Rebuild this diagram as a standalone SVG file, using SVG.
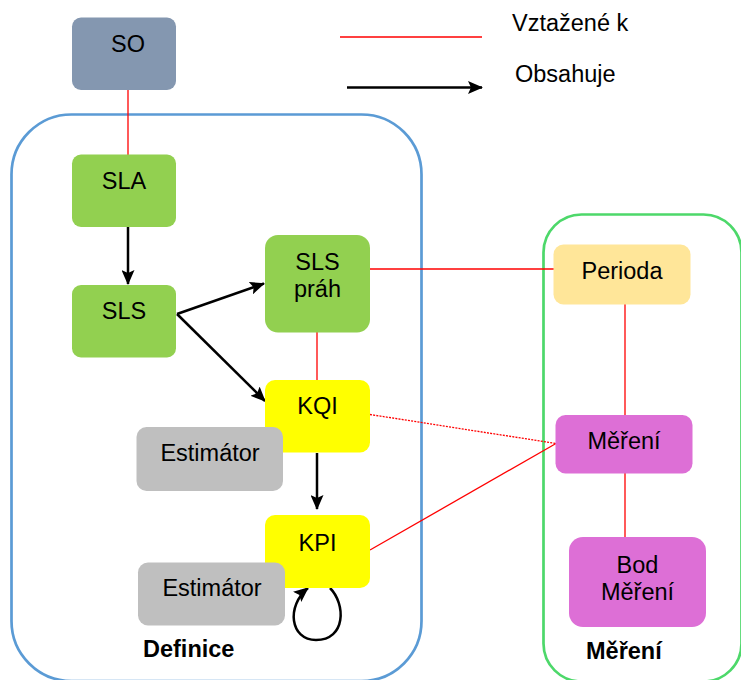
<svg xmlns="http://www.w3.org/2000/svg" width="741" height="680" viewBox="0 0 741 680">
<style>
text{font-family:"Liberation Sans",Arial,sans-serif;font-size:23.5px;fill:#000;text-anchor:middle}
.b{font-weight:bold;text-anchor:start}
.rel{stroke:#FF0000;stroke-width:1.3;fill:none}
.has{stroke:#000;stroke-width:2.5;fill:none;marker-end:url(#ah)}
</style>
<defs>
<marker id="ah" markerUnits="userSpaceOnUse" markerWidth="15" markerHeight="13" refX="14" refY="6.5" orient="auto" viewBox="0 0 15 13">
<path d="M0,0 L15,6.5 L0,13 L3,6.5 z" fill="#000"/>
</marker>
</defs>
<rect width="741" height="680" fill="#fff"/>
<g id="legend">
<line x1="340" y1="37" x2="482" y2="37" class="rel"/>
<text x="512" y="31" style="text-anchor:start">Vztažené k</text>
<line x1="347" y1="87.5" x2="482" y2="87.5" class="has"/>
<text x="515" y="82" style="text-anchor:start">Obsahuje</text>
</g>
<g id="definice">
<rect x="11.5" y="114.5" width="410" height="566.5" rx="60" fill="none" stroke="#5B9BD5" stroke-width="2.7"/>
<text x="143" y="657" class="b">Definice</text>
</g>
<g id="mereni-group">
<rect x="543.5" y="214.5" width="198" height="467" rx="38" fill="none" stroke="#4DD86A" stroke-width="2.7"/>
<text x="586" y="659" class="b">Měření</text>
</g>
<g id="connectors">
<line x1="128" y1="90" x2="128" y2="155" class="rel"/>
<line x1="317" y1="332" x2="317" y2="380" class="rel"/>
<line x1="370" y1="269" x2="554" y2="269" class="rel"/>
<line x1="625" y1="304" x2="625" y2="415" class="rel"/>
<line x1="625" y1="473" x2="625" y2="537" class="rel"/>
<line x1="370" y1="414.5" x2="556" y2="443.5" class="rel" stroke-dasharray="2,1.2"/>
<line x1="370" y1="550" x2="556" y2="443.5" class="rel"/>
<line x1="128" y1="227" x2="128" y2="284" class="has"/>
<line x1="177" y1="314" x2="264" y2="283.5" class="has"/>
<line x1="177" y1="314" x2="265" y2="401" class="has"/>
<line x1="317" y1="453" x2="317" y2="509" class="has"/>
<path d="M330,588 C346,604 346,640 316,640 C290,640 286,606 308,588" class="has"/>
</g>
<g id="SO">
<rect x="72" y="17.5" width="104" height="72.5" rx="9" fill="#8497B0"/>
<text x="128" y="52">SO</text>
</g>
<g id="SLA">
<rect x="72" y="154.5" width="104" height="72.5" rx="9" fill="#92D050"/>
<text x="124" y="189">SLA</text>
</g>
<g id="SLS">
<rect x="72" y="285" width="104" height="72.5" rx="9" fill="#92D050"/>
<text x="124" y="319">SLS</text>
</g>
<g id="SLS-prah">
<rect x="265" y="235" width="105" height="97.5" rx="13" fill="#92D050"/>
<text x="317.5" y="270">SLS</text>
<text x="317.5" y="297">práh</text>
</g>
<g id="KQI">
<rect x="265" y="380" width="105" height="72.5" rx="10" fill="#FFFF00"/>
<text x="317.5" y="414">KQI</text>
</g>
<g id="Estimator1">
<rect x="136.5" y="427" width="146.5" height="64" rx="10" fill="#BFBFBF"/>
<text x="210" y="461">Estimátor</text>
</g>
<g id="KPI">
<rect x="265" y="515" width="105" height="73" rx="10" fill="#FFFF00"/>
<text x="317.5" y="551">KPI</text>
</g>
<g id="Estimator2">
<rect x="138" y="562.5" width="147" height="63" rx="10" fill="#BFBFBF"/>
<text x="212" y="596">Estimátor</text>
</g>
<g id="Perioda">
<rect x="553.5" y="244.5" width="137" height="60" rx="10" fill="#FFE699"/>
<text x="622" y="279">Perioda</text>
</g>
<g id="Mereni">
<rect x="555.5" y="415" width="137" height="58.5" rx="10" fill="#DD6FD6"/>
<text x="624" y="449">Měření</text>
</g>
<g id="BodMereni">
<rect x="569" y="537" width="137" height="90" rx="14" fill="#DD6FD6"/>
<text x="637.5" y="573">Bod</text>
<text x="637.5" y="600">Měření</text>
</g>
</svg>
